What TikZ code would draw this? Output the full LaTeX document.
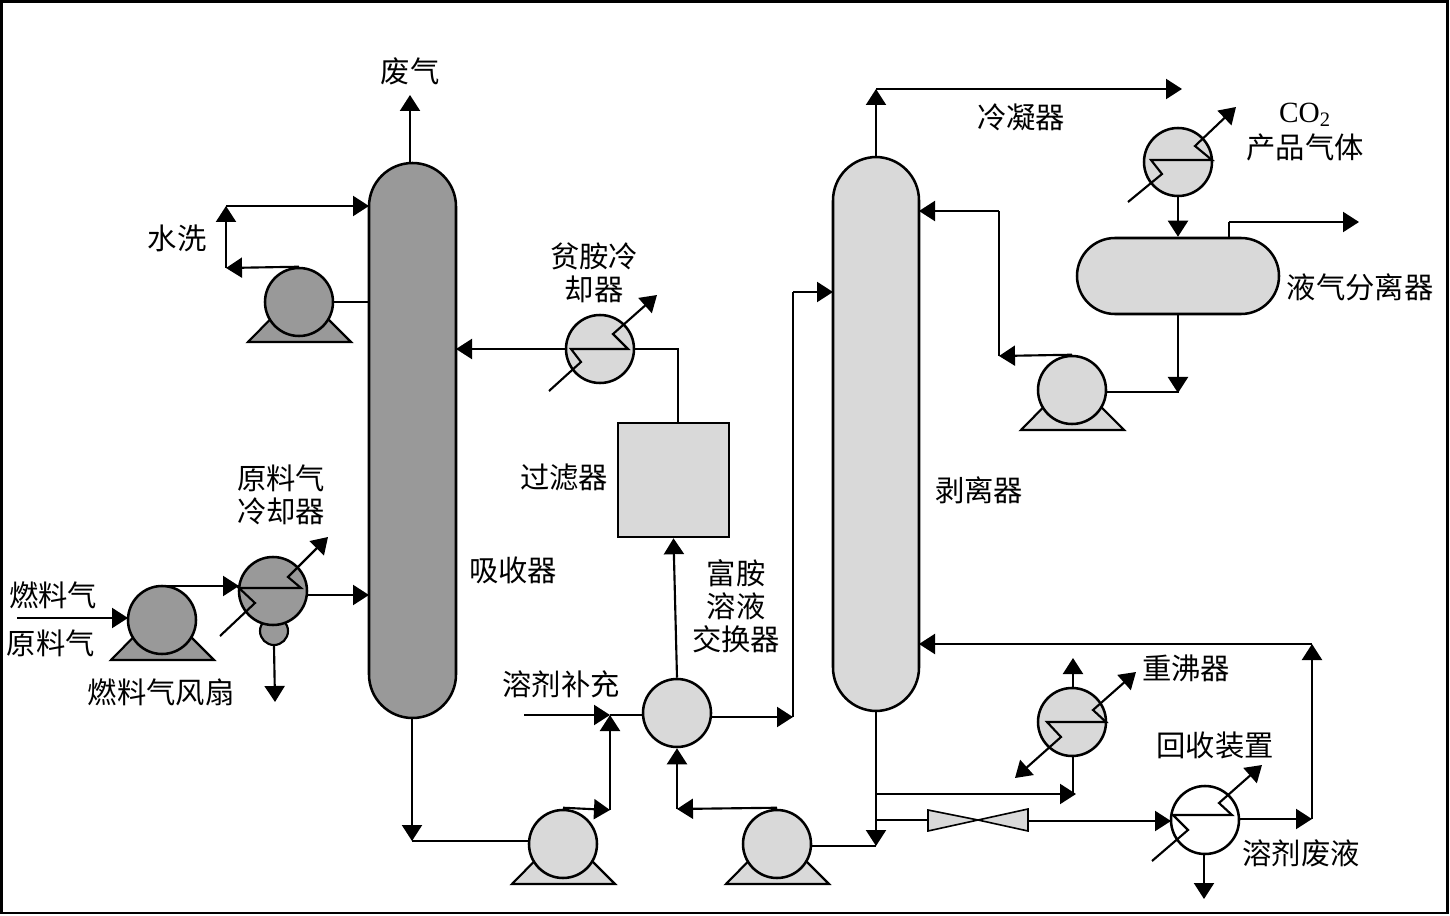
\documentclass[tikz,border=0pt]{standalone}
\usepackage{fontspec}
\setmainfont{Noto Sans CJK SC}
\newfontfamily\latinserif{Liberation Serif}
\usetikzlibrary{arrows.meta}
\definecolor{darkfill}{HTML}{999999}
\definecolor{lightfill}{HTML}{D9D9D9}
\tikzset{
  line/.style={line width=1.6pt,black,line join=miter},
  flow/.style={line,-{Triangle[length=12pt,width=15pt]}},
  bothflow/.style={line,{Triangle[length=12pt,width=15pt]}-{Triangle[length=12pt,width=15pt]}},
  roundel/.style={circle,draw=black,line width=1.9pt,minimum size=51pt,inner sep=0pt},
  vessel/.style={rectangle,draw=black,line width=1.9pt,inner sep=0pt,rounded corners=#1},
  label/.style={font=\fontsize{22}{24.75}\selectfont,align=center,inner sep=0pt,text=black},
}
\newcommand{\pumpunit}[4]{% name, x, y, fill
  \path[fill=#4,draw=black,line width=1.6pt,line join=miter] (#2-51,#3+40) -- (#2+52,#3+40) -- (#2,#3-12) -- cycle;
  \node[roundel,fill=#4] (#1) at (#2,#3) {};
}
\begin{document}
\begin{tikzpicture}[x=0.75pt,y=-0.75pt]
\useasboundingbox (0,0) rectangle (1450,916);
\draw[line width=2.2pt,black] (1.5,1.5) rectangle (1447.5,913);

% vessels
\node[vessel=32.6pt,fill=darkfill,minimum width=65.25pt,minimum height=416.25pt] (A) at (412.5,440.5) {};
\node[vessel=32.6pt,fill=lightfill,minimum width=64.5pt,minimum height=415.5pt] (S) at (876,434) {};
\node[vessel=28.5pt,fill=lightfill,minimum width=151.5pt,minimum height=57pt] (Sep) at (1178,276) {};
\node[rectangle,draw=black,line width=1.9pt,fill=lightfill,minimum width=83.25pt,minimum height=85.5pt,inner sep=0pt] (F) at (673.5,480) {};

% pumps
\pumpunit{P1}{299}{302}{darkfill}
\pumpunit{P2}{162}{620}{darkfill}
\pumpunit{P3}{563}{844}{lightfill}
\pumpunit{P4}{777}{844}{lightfill}
\pumpunit{P5}{1072}{390}{lightfill}

% exchangers and mixer
\node[circle,draw=black,line width=1.6pt,fill=darkfill,minimum size=21pt,inner sep=0pt] (Bowl) at (274,631) {};
\node[roundel,fill=darkfill] (HF) at (273,591) {};
\node[roundel,fill=lightfill] (HL) at (600,349) {};
\node[roundel,fill=lightfill] (HC) at (1178,162) {};
\node[roundel,fill=lightfill] (HR) at (1072,722) {};
\node[roundel,fill=white] (HV) at (1205,820) {};
\node[roundel,fill=lightfill] (M) at (677,713) {};

% valve
\path[fill=lightfill,draw=black,line width=1.2pt] (928,810) -- (978,820) -- (928,831) -- cycle;
\path[fill=lightfill,draw=black,line width=1.2pt] (1028,809) -- (978,820) -- (1028,831) -- cycle;
\coordinate (VL) at (928,820);
\coordinate (VR) at (1028,821);

% junction coordinates
\coordinate (exhaust) at (410,95);
\coordinate (absTop) at (410,163);
\coordinate (w1) at (226,268);
\coordinate (w2) at (226,206);
\coordinate (absW) at (369,206);
\coordinate (absP) at (369,302);
\coordinate (absL) at (456,349);
\coordinate (fIn) at (17,618);
\coordinate (p2In) at (128,618);
\coordinate (p2Top) at (157,586);
\coordinate (hfIn) at (239,586);
\coordinate (hfOut) at (307,595);
\coordinate (absF) at (369,595);
\coordinate (bowlEnd) at (275,702);
\coordinate (absB) at (412,718);
\coordinate (j1) at (412,841);
\coordinate (p3L) at (530,841);
\coordinate (j2) at (610,810);
\coordinate (j3) at (610,715);
\coordinate (addIn) at (524,715);
\coordinate (mL) at (643,715);
\coordinate (mR) at (711,717);
\coordinate (j4) at (793,717);
\coordinate (j5) at (793,292);
\coordinate (sA) at (833,292);
\coordinate (j6) at (677,809);
\coordinate (fTop) at (678,423);
\coordinate (j7) at (678,349);
\coordinate (sTop) at (876,157);
\coordinate (j8) at (876,89);
\coordinate (out1) at (1182,89);
\coordinate (sepT) at (1229,238);
\coordinate (j9) at (1229,222);
\coordinate (out2) at (1359,222);
\coordinate (j10) at (1178,393);
\coordinate (j11) at (999,356);
\coordinate (j12) at (999,211);
\coordinate (sR) at (919,211);
\coordinate (sBot) at (876,711);
\coordinate (j13) at (876,846);
\coordinate (p4R) at (810,846);
\coordinate (t1) at (876,794);
\coordinate (j14) at (1076,794);
\coordinate (t2) at (876,820);
\coordinate (hrB) at (1073,756);
\coordinate (hrT) at (1073,688);
\coordinate (hrUp) at (1073,658);
\coordinate (hvIn) at (1171,821);
\coordinate (hvOut) at (1238,819);
\coordinate (j15) at (1312,819);
\coordinate (j16) at (1312,644);
\coordinate (sRet) at (919,644);
\coordinate (hvB) at (1204,854);
\coordinate (hvDown) at (1204,899);

% connectors
\draw[flow] (absTop) -- (exhaust);
\draw[flow] (P1.north) -- (w1);
\draw[flow] (w1) -- (w2);
\draw[flow] (w2) -- (absW);
\draw[line] (P1.east) -- (absP);
\draw[line] (fTop) -- (j7) -- (HL.east);
\draw[flow] (HL.west) -- (absL);
\draw[flow] (fIn) -- (p2In);
\draw[flow] (p2Top) -- (hfIn);
\draw[flow] (hfOut) -- (absF);
\draw[flow] (Bowl.south) -- (bowlEnd);
\draw[flow] (absB) -- (j1);
\draw[line] (j1) -- (p3L);
\draw[flow] (P3.north) ++(0,-1) -- (j2);
\draw[flow] (j2) -- (j3);
\draw[flow] (addIn) -- (j3);
\draw[line] (j3) -- (mL);
\draw[flow] (M.north) -- (F.south);
\draw[flow] (mR) -- (j4);
\draw[line] (j4) -- (j5);
\draw[flow] (j5) -- (sA);
\draw[flow] (P4.north) ++(0,-1) -- (j6);
\draw[flow] (j6) -- (M.south);
\draw[flow] (sTop) -- (j8);
\draw[flow] (j8) -- (out1);
\draw[flow] (HC.south) -- (Sep.north);
\draw[line] (sepT) -- (j9);
\draw[flow] (j9) -- (out2);
\draw[flow] (Sep.south) -- (j10);
\draw[line] (P5.east) ++(0,2) -- ++(72,0);
\draw[flow] (P5.north) -- (j11);
\draw[line] (j11) -- (j12);
\draw[flow] (j12) -- (sR);
\draw[flow] (sBot) -- (j13);
\draw[line] (p4R) -- (j13);
\draw[flow] (t1) -- (j14);
\draw[line] (hrB) -- (j14 -| hrB);
\draw[line] (t2) -- (VL);
\draw[flow] (VR) -- (hvIn);
\draw[flow] (hrT) -- (hrUp);
\draw[flow] (hvOut) -- (j15);
\draw[flow] (j15) -- (j16);
\draw[flow] (j16) -- (sRet);
\draw[flow] (hvB) -- (hvDown);

% exchanger coils
\draw[flow] (220,636) -- (255,603) -- (239,588) -- (301,588) -- (288,577) -- (328,537);
\draw[flow] (549,391) -- (581,362) -- (571,349) -- (628,349) -- (613,334) -- (657,295);
\draw[flow] (1128,202) -- (1162,174) -- (1151,160) -- (1212,160) -- (1195,146) -- (1236,107);
\draw[bothflow] (1015,778) -- (1061,737) -- (1047,722) -- (1106,722) -- (1093,710) -- (1136,672);
\draw[flow] (1152,861) -- (1188,830) -- (1173,815) -- (1232,815) -- (1219,803) -- (1262,765);

% labels
\node[label] (t01) at (410,71) {废气};
\node[label] (t02) at (177,238) {水洗};
\node[label] (t03) at (594,273) {贫胺冷\\却器};
\node[label] (t04) at (281,495) {原料气\\冷却器};
\node[label] (t05) at (53,595) {燃料气};
\node[label] (t06) at (51,643) {原料气};
\node[label] (t07) at (161,692) {燃料气风扇};
\node[label] (t08) at (513,570) {吸收器};
\node[label] (t09) at (564,477) {过滤器};
\node[label] (t10) at (736,606) {富胺\\溶液\\交换器};
\node[label] (t11) at (561,684) {溶剂补充};
\node[label] (t12) at (979,490) {剥离器};
\node[label] (t13) at (1021,117) {冷凝器};
\node[label] (t14) at (1305,115) {\latinserif CO\textsubscript{2}};
\node[label] (t15) at (1305,147) {产品气体};
\node[label] (t16) at (1360,287) {液气分离器};
\node[label] (t17) at (1186,668) {重沸器};
\node[label] (t18) at (1215,745) {回收装置};
\node[label] (t19) at (1301,853) {溶剂废液};
\end{tikzpicture}
\end{document}
